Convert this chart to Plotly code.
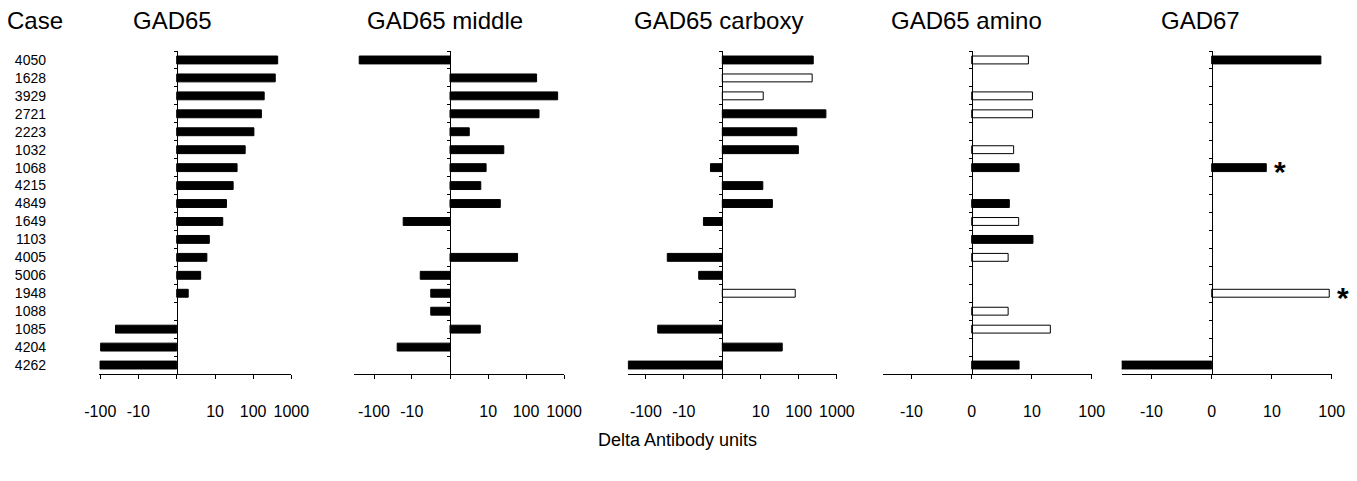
import numpy as np
import plotly.graph_objects as go

# ---------------- data ----------------
cases = ["4050", "1628", "3929", "2721", "2223", "1032", "1068", "4215", "4849",
         "1649", "1103", "4005", "5006", "1948", "1088", "1085", "4204", "4262"]

panel_titles = ["GAD65", "GAD65 middle", "GAD65 carboxy", "GAD65 amino", "GAD67"]

gad65 = [440, 380, 195, 165, 105, 62, 38, 30, 20, 16, 7, 6, 4, 1.5, None, -40, -98, -102]
gad65_open = [0] * 18

gad65_middle = [-245, 190, 680, 220, 2.9, 26, 8.8, 6.3, 21, -17, None, 60, -5.9, -2.9, -2.9, 6.1, -24.5, None]
gad65_middle_open = [0] * 18

gad65_carboxy = [240, 225, 11.7, 515, 89, 98, -1.55, 11.4, 20.4, -2.8, None, -27.5, -3.9, 81, None, -49, 37, -290]
gad65_carboxy_open = [0, 1, 1, 0, 0, 0, 0, 0, 0, 0, 0, 0, 0, 1, 0, 0, 0, 0]

gad65_amino = [8.7, None, 10.2, 10.2, None, 4.8, 6.0, None, 4.0, 5.9, 10.4, 3.8, None, None, 3.8, 20.4, None, 6.0]
gad65_amino_open = [1, 0, 1, 1, 0, 1, 0, 0, 0, 1, 0, 1, 0, 0, 1, 1, 0, 0]

gad67 = [66, None, None, None, None, None, 8.0, None, None, None, None, None, None, 91, None, None, None, -38]
gad67_open = [0, 0, 0, 0, 0, 0, 0, 0, 0, 0, 0, 0, 0, 1, 0, 0, 0, 0]
gad67_starred = ["1068", "1948"]

ticks_wide = [-100, -10, 0, 10, 100, 1000]
ticktext_wide = ["-100", "-10", "", "10", "100", "1000"]
ticks_narrow = [-10, 0, 10, 100]
ticktext_narrow = ["-10", "0", "10", "100"]

x_title = "Delta Antibody units"

# ---------------- helpers ----------------
# page body has an 8px margin; size the figure so it fits the 1357x481 window
OFF = 8
W, H = 1357 - 2 * OFF, 481 - 2 * OFF


def symlog(v):
    """symmetric log scale (asinh based) in decades"""
    if v is None:
        return None
    return float(np.arcsinh(v / 2.0) / np.log(10))


def px(x):
    return (x - OFF) / W


def py(y):
    return 1 - (y - OFF) / H


panels = [
    dict(vals=gad65, open=gad65_open, zero=176.7, scale=38.2, rng=(-2.03, 3.0), tv=ticks_wide, tt=ticktext_wide, tx=172),
    dict(vals=gad65_middle, open=gad65_middle_open, zero=450.0, scale=38.0, rng=(-2.52, 3.0), tv=ticks_wide, tt=ticktext_wide, tx=445),
    dict(vals=gad65_carboxy, open=gad65_carboxy_open, zero=722.3, scale=38.2, rng=(-2.48, 3.0), tv=ticks_wide, tt=ticktext_wide, tx=718),
    dict(vals=gad65_amino, open=gad65_amino_open, zero=971.7, scale=60.0, rng=(-1.48, 2.0), tv=ticks_narrow, tt=ticktext_narrow, tx=966),
    dict(vals=gad67, open=gad67_open, zero=1211.7, scale=60.0, rng=(-1.5, 2.0), tv=ticks_narrow, tt=ticktext_narrow, tx=1200),
]

TOP, BOTTOM = 51.0, 374.0
TITLE_Y = 20.5
FONT = "Liberation Sans, Arial, sans-serif"

fig = go.Figure()
layout = dict(
    width=W, height=H,
    margin=dict(l=0, r=0, t=0, b=0, pad=0, autoexpand=False),
    paper_bgcolor="white", plot_bgcolor="white",
    showlegend=False,
    font=dict(family=FONT, color="black"),
)
annotations = []
n = len(cases)

for i, p in enumerate(panels):
    k = "" if i == 0 else str(i + 1)
    xa, ya = "x" + k, "y" + k
    tx = [symlog(v) for v in p["vals"]]
    colors = ["white" if o else "black" for o in p["open"]]
    fig.add_trace(go.Bar(
        x=tx, y=cases, orientation="h", xaxis=xa, yaxis=ya,
        marker=dict(color=colors, line=dict(color="black", width=1)),
        width=0.44,
        hoverinfo="skip",
    ))
    a, b = p["rng"]
    d0 = p["zero"] + a * p["scale"]
    d1 = p["zero"] + b * p["scale"]
    layout["xaxis" + k] = dict(
        domain=[px(d0), px(d1)], range=[a, b], anchor=ya,
        showgrid=False, zeroline=False, automargin=False,
        showline=True, linecolor="black", linewidth=1,
        ticks="outside", ticklen=4, tickcolor="black", tickwidth=1,
        tickvals=[symlog(v) for v in p["tv"]], ticktext=p["tt"],
        tickfont=dict(size=16, family=FONT, color="black"),
        ticklabelstandoff=19,
        fixedrange=True,
    )
    layout["yaxis" + k] = dict(
        domain=[py(BOTTOM), py(TOP)],
        type="category", categoryorder="array", categoryarray=cases,
        range=[n - 0.5, -0.5], automargin=False,
        anchor="free", position=px(p["zero"]),
        showgrid=False, zeroline=False,
        showline=True, linecolor="black", linewidth=1,
        ticks="outside", ticklen=3, tickcolor="black", tickwidth=1,
        tickson="boundaries", showticklabels=False,
        fixedrange=True,
    )
    annotations.append(dict(
        text=panel_titles[i], x=px(p["tx"]), y=py(TITLE_Y), xref="paper", yref="paper",
        xanchor="center", yanchor="middle", showarrow=False,
        font=dict(size=24, family=FONT, color="black"),
    ))

# case labels on an overlaying axis at the far left
fig.add_trace(go.Scatter(
    x=[0] * n, y=cases, xaxis="x", yaxis="y6", mode="markers",
    marker=dict(opacity=0), hoverinfo="skip",
))
layout["yaxis6"] = dict(
    overlaying="y", type="category", categoryorder="array", categoryarray=cases,
    range=[n - 0.5, -0.5], anchor="free", position=px(46), side="left",
    showgrid=False, zeroline=False, showline=False, ticks="", automargin=False,
    tickfont=dict(size=14, family=FONT, color="black"),
    fixedrange=True,
)

annotations.append(dict(
    text="Case", x=px(5), y=py(TITLE_Y), xref="paper", yref="paper",
    xanchor="left", yanchor="middle", showarrow=False,
    font=dict(size=24, family=FONT, color="black"),
))

annotations.append(dict(
    text=x_title, x=px(677), y=py(440), xref="paper", yref="paper",
    xanchor="center", yanchor="middle", showarrow=False,
    font=dict(size=18, family=FONT, color="black"),
))

# asterisks for GAD67 (category position given by index)
for c in gad67_starred:
    idx = cases.index(c)
    annotations.append(dict(
        text="<b>*</b>", x=symlog(gad67[idx]), y=idx, xref="x5", yref="y5",
        xanchor="left", yanchor="middle", xshift=6, yshift=-4, showarrow=False,
        font=dict(size=30, family=FONT, color="black"),
    ))

layout["annotations"] = annotations
fig.update_layout(**layout)
fig.write_html("out.html")
